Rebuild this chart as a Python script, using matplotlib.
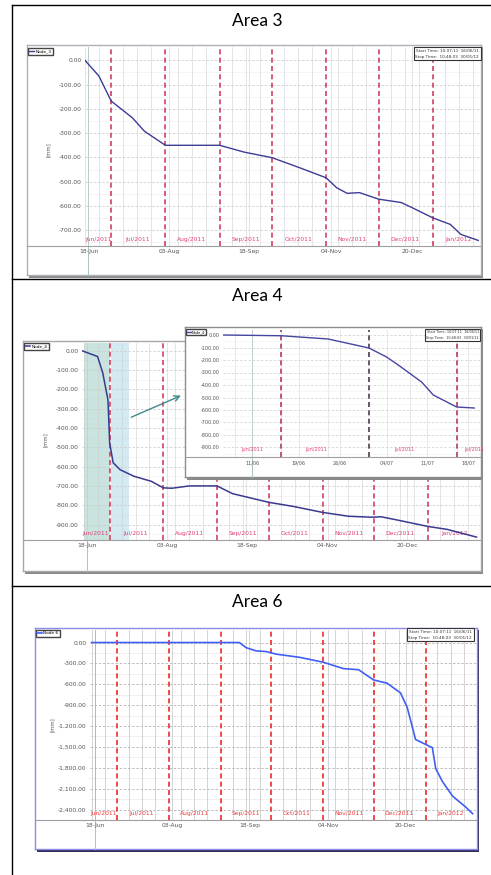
import matplotlib.pyplot as plt
import matplotlib.dates as mdates
import numpy as np
from matplotlib.lines import Line2D

W, H = 491, 875

# ---- values ----
month_starts = ['2011-07-01', '2011-08-01', '2011-09-01', '2011-10-01',
                '2011-11-01', '2011-12-01', '2012-01-01']
month_mids = ['2011-06-16', '2011-07-16', '2011-08-16', '2011-09-16',
              '2011-10-16', '2011-11-16', '2011-12-16', '2012-01-16']
month_names = ['Jun/2011', 'Jul/2011', 'Aug/2011', 'Sep/2011',
               'Oct/2011', 'Nov/2011', 'Dec/2011', 'Jan/2012']
tick_dates = ['2011-06-18', '2011-08-03', '2011-09-18', '2011-11-04', '2011-12-20']
tick_names = ['18-Jun', '03-Aug', '18-Sep', '04-Nov', '20-Dec']

area3_dates = ['2011-06-16', '2011-06-24', '2011-07-01', '2011-07-13', '2011-07-20',
               '2011-08-01', '2011-09-01', '2011-09-15', '2011-10-01', '2011-10-17',
               '2011-11-01', '2011-11-07', '2011-11-13', '2011-11-20', '2011-12-01',
               '2011-12-14', '2011-12-21', '2012-01-01', '2012-01-11', '2012-01-17',
               '2012-01-27']
area3_mm = [0, -65, -168, -236, -292, -350, -350, -378, -401, -443, -484, -525,
            -548, -545, -572, -586, -610, -649, -676, -717, -742]
area3_yticks = [0, -100, -200, -300, -400, -500, -600, -700]

area4_dates = ['2011-06-15', '2011-06-24', '2011-06-27', '2011-06-30', '2011-07-01',
               '2011-07-03', '2011-07-07', '2011-07-15', '2011-07-25', '2011-08-01',
               '2011-08-06', '2011-08-16', '2011-09-01', '2011-09-10', '2011-10-01',
               '2011-10-15', '2011-11-01', '2011-11-16', '2011-11-29', '2011-12-05',
               '2011-12-15', '2012-01-01', '2012-01-12', '2012-01-29']
area4_mm = [0, -30, -115, -255, -478, -580, -616, -650, -676, -710, -712, -700,
            -700, -740, -785, -806, -837, -857, -862, -860, -878, -910, -925, -965]
area4_yticks = [0, -100, -200, -300, -400, -500, -600, -700, -800, -900]

zoom_dates = ['2011-06-06', '2011-06-16', '2011-06-24', '2011-07-01', '2011-07-04',
              '2011-07-06', '2011-07-10', '2011-07-12', '2011-07-16', '2011-07-19']
zoom_mm = [0, -6, -32, -104, -176, -240, -376, -480, -576, -584]
zoom_yticks = [0, -100, -200, -300, -400, -500, -600, -700, -800, -900]
zoom_lines = ['2011-06-16', '2011-07-01', '2011-07-16']
zoom_ticks = ['2011-06-11', '2011-06-19', '2011-06-26', '2011-07-04', '2011-07-11', '2011-07-18']
zoom_label_dates = ['2011-06-08', '2011-06-22', '2011-07-07', '2011-07-19']
zoom_label_names = ['Jun/2011', 'Jun/2011', 'Jul/2011', 'Jul/2011']

area6_dates = ['2011-06-16', '2011-09-12', '2011-09-16', '2011-09-22', '2011-09-28',
               '2011-10-04', '2011-10-18', '2011-11-01', '2011-11-13', '2011-11-22',
               '2011-12-01', '2011-12-09', '2011-12-17', '2011-12-21', '2011-12-26',
               '2012-01-01', '2012-01-05', '2012-01-07', '2012-01-11', '2012-01-17',
               '2012-01-25', '2012-01-29']
area6_mm = [0, 0, -74, -120, -130, -167, -213, -283, -375, -390, -538, -584, -723,
            -931, -1394, -1464, -1511, -1811, -1997, -2206, -2367, -2460]
area6_yticks = [0, -300, -600, -900, -1200, -1500, -1800, -2100, -2400]


def num(lst):
    return mdates.date2num(np.array(lst, dtype='datetime64[D]'))


def px(x0, y0, x1, y1):
    return [x0 / W, 1 - y1 / H, (x1 - x0) / W, (y1 - y0) / H]


fig = plt.figure(figsize=(W / 100, H / 100), dpi=100)

# table borders
line_kw = dict(color='black', lw=1.0, transform=fig.transFigure)
fig.add_artist(Line2D([12 / W, 12 / W], [0, 1 - 5 / H], **line_kw))
for yy in [5, 279, 586]:
    fig.add_artist(Line2D([12 / W, 1], [1 - yy / H, 1 - yy / H], **line_kw))

for name, yy in [('Area 3', 21), ('Area 4', 296), ('Area 6', 602)]:
    fig.text(257 / W, 1 - yy / H, name, ha='center', va='center',
             fontsize=12.5, family='Lato')


def blank(rect, color, z, edge=None):
    a = fig.add_axes(px(*rect), zorder=z)
    a.set_facecolor(color)
    a.set_xticks([])
    a.set_yticks([])
    for s in a.spines.values():
        s.set_visible(edge is not None)
        if edge:
            s.set_color(edge)
            s.set_linewidth(1.0)
    return a


def screen(frame, edge, shadow, z):
    x0, y0, x1, y1 = frame
    blank((x0 + 2, y0 + 2, x1 + 2, y1 + 3), shadow, z)
    return blank(frame, 'white', z + 0.1, edge)


def chart(frame, plot, z, xlim, dates, vals, color, ylim, yticks,
          vlines, vline_color, ticks, tick_labels, mids, mid_names, mlab_color,
          legend_txt, legend_px, info_px, ylab_px, grid_color, lw=1.0, fs=4.3):
    ax = fig.add_axes(px(*plot), zorder=z + 0.2)
    ax.set_facecolor('white')
    x_lo, x_hi = num(xlim)
    ax.set_xlim(x_lo, x_hi)
    ax.set_ylim(*ylim)
    pw = plot[2] - plot[0]
    ph = plot[3] - plot[1]

    ax.set_yticks(yticks, [f'{v:,.2f}' for v in yticks])
    ax.set_yticks([v - (yticks[0] - yticks[1]) / 2 for v in yticks], minor=True)
    ax.set_xticks(num(ticks), tick_labels)
    ax.xaxis.set_minor_locator(mdates.DayLocator(bymonthday=[8, 16, 24]))
    ax.tick_params(which='both', length=0, labelsize=fs, colors='#555555', pad=2.5)
    ax.grid(axis='y', which='major', color=grid_color, lw=0.6, ls=(0, (3, 2)))
    ax.grid(axis='y', which='minor', color=grid_color, lw=0.4, ls=(0, (3, 2)), alpha=0.6)
    ax.grid(axis='x', which='both', color=grid_color, lw=0.5, alpha=0.8)
    for s in ax.spines.values():
        s.set_visible(False)

    vl = num(vlines)
    for d in vl:
        ax.axvline(d, color=vline_color, lw=1.2, ls=(0, (3, 2)), zorder=2)
    for d, t in zip(num(mids), mid_names):
        if d < x_lo + 3:
            # partly shown first month: centre on its visible part
            d = (x_lo + vl[0]) / 2
        if d <= x_hi + 2:
            ax.text(d, 7 / ph, t, transform=ax.get_xaxis_transform(), ha='center',
                    va='center', fontsize=fs, color=mlab_color, clip_on=False, zorder=3)

    below = (frame[3] - plot[3]) / ph
    ax.axvline(num(ticks)[0], ymin=-below, ymax=1, color='#a9c4c4', lw=0.7,
               clip_on=False, zorder=1)
    left = (plot[0] - frame[0]) / pw
    ax.plot([-left, 1], [0, 0], transform=ax.transAxes, color='#a0a0a0', lw=0.8,
            clip_on=False)

    line, = ax.plot(num(dates), vals, color=color, lw=lw, zorder=4)

    lx0, ly0 = legend_px
    ax.legend([line], [legend_txt], loc='upper left', bbox_to_anchor=(lx0 / W, 1 - ly0 / H),
              bbox_transform=fig.transFigure, fontsize=fs * 0.72, handlelength=1.0,
              borderpad=0.3, borderaxespad=0, fancybox=False, edgecolor='#444444',
              framealpha=1, handletextpad=0.4)

    ix, iy = info_px
    ax.text(ix / W, 1 - iy / H, 'Start Time: 10:07:11  16/06/11\nStop Time:  10:48:03  30/01/12',
            transform=fig.transFigure, ha='right', va='top', fontsize=fs * 0.7, color='#333333',
            linespacing=1.6, zorder=5,
            bbox=dict(boxstyle='square,pad=0.4', fc='white', ec='#333333', lw=0.8))

    yx, yy = ylab_px
    fig.text(yx / W, 1 - yy / H, '[mm]', rotation=90, ha='center', va='center',
             fontsize=fs * 0.88, color='#555555')
    return ax


# ---- Area 3 ----
screen((27, 45, 481, 275), '#aeb0b8', '#8a8a8a', 1)
chart((27, 45, 481, 275), (85, 47, 480, 246), 1, ['2011-06-16', '2012-01-28'],
      area3_dates, area3_mm, '#3c3c96', (-765, 55), area3_yticks,
      month_starts, '#d0405e', tick_dates, tick_names, month_mids, month_names,
      '#e0407a', 'Node_3', (28, 48), (479, 49), (48, 150), '#cfcfcf')

# ---- Area 4 ----
screen((23, 341, 481, 571), '#a8a8a8', '#8a8a8a', 1)
ax4 = chart((23, 341, 481, 571), (82, 343, 480, 540), 1, ['2011-06-15', '2012-01-31'],
            area4_dates, area4_mm, '#3a3a90', (-980, 40), area4_yticks,
            month_starts, '#d0405e', tick_dates, tick_names, month_mids, month_names,
            '#e0407a', 'Node_4', (24, 343), (479, 344), (45, 440), '#cfcfcf', lw=1.1)
sel_a = num(['2011-06-16', '2011-07-01'])
sel_b = num(['2011-07-02', '2011-07-12'])
ax4.axvspan(sel_a[0], sel_a[1], color='#bcdcd6', alpha=0.8, zorder=1.5, lw=0)
ax4.axvspan(sel_b[0], sel_b[1], color='#c9e5f0', alpha=0.8, zorder=1.5, lw=0)

# zoomed window over Area 4
zf = screen((185, 327, 481, 477), '#8c8c8c', '#8a8a8a', 3)
zax = chart((185, 327, 481, 477), (223, 330, 480, 457), 3, ['2011-06-06', '2011-07-20'],
            zoom_dates, zoom_mm, '#4646a0', (-976, 40), zoom_yticks,
            zoom_lines, '#b03a6a', zoom_ticks, [t[8:10] + '/' + t[5:7] for t in zoom_ticks],
            zoom_label_dates, zoom_label_names, '#e0407a', 'Node_4', (186, 329),
            (479, 330), (193, 392), '#d6d6d6', fs=3.5)
zax.lines[1].set_color('#503850')
zf.annotate('', xy=(-0.005, 0.55), xycoords='axes fraction',
            xytext=(sel_b[1], -350), textcoords=ax4.transData,
            arrowprops=dict(arrowstyle='->', color='#3e8a8a', lw=1.0))

# ---- Area 6 ----
screen((35, 628, 477, 849), '#8c8ce6', '#2e2e5a', 1)
chart((35, 628, 477, 849), (90, 630, 476, 820), 1, ['2011-06-15', '2012-01-31'],
      area6_dates, area6_mm, '#3f5ff5', (-2460, 180), area6_yticks,
      month_starts, '#ee2a2a', tick_dates, tick_names, month_mids, month_names,
      '#f03a3a', 'Node 6', (36, 630), (472, 630), (52, 725), '#b4b4b4', lw=1.2)

fig.savefig('out.png', dpi=100)
